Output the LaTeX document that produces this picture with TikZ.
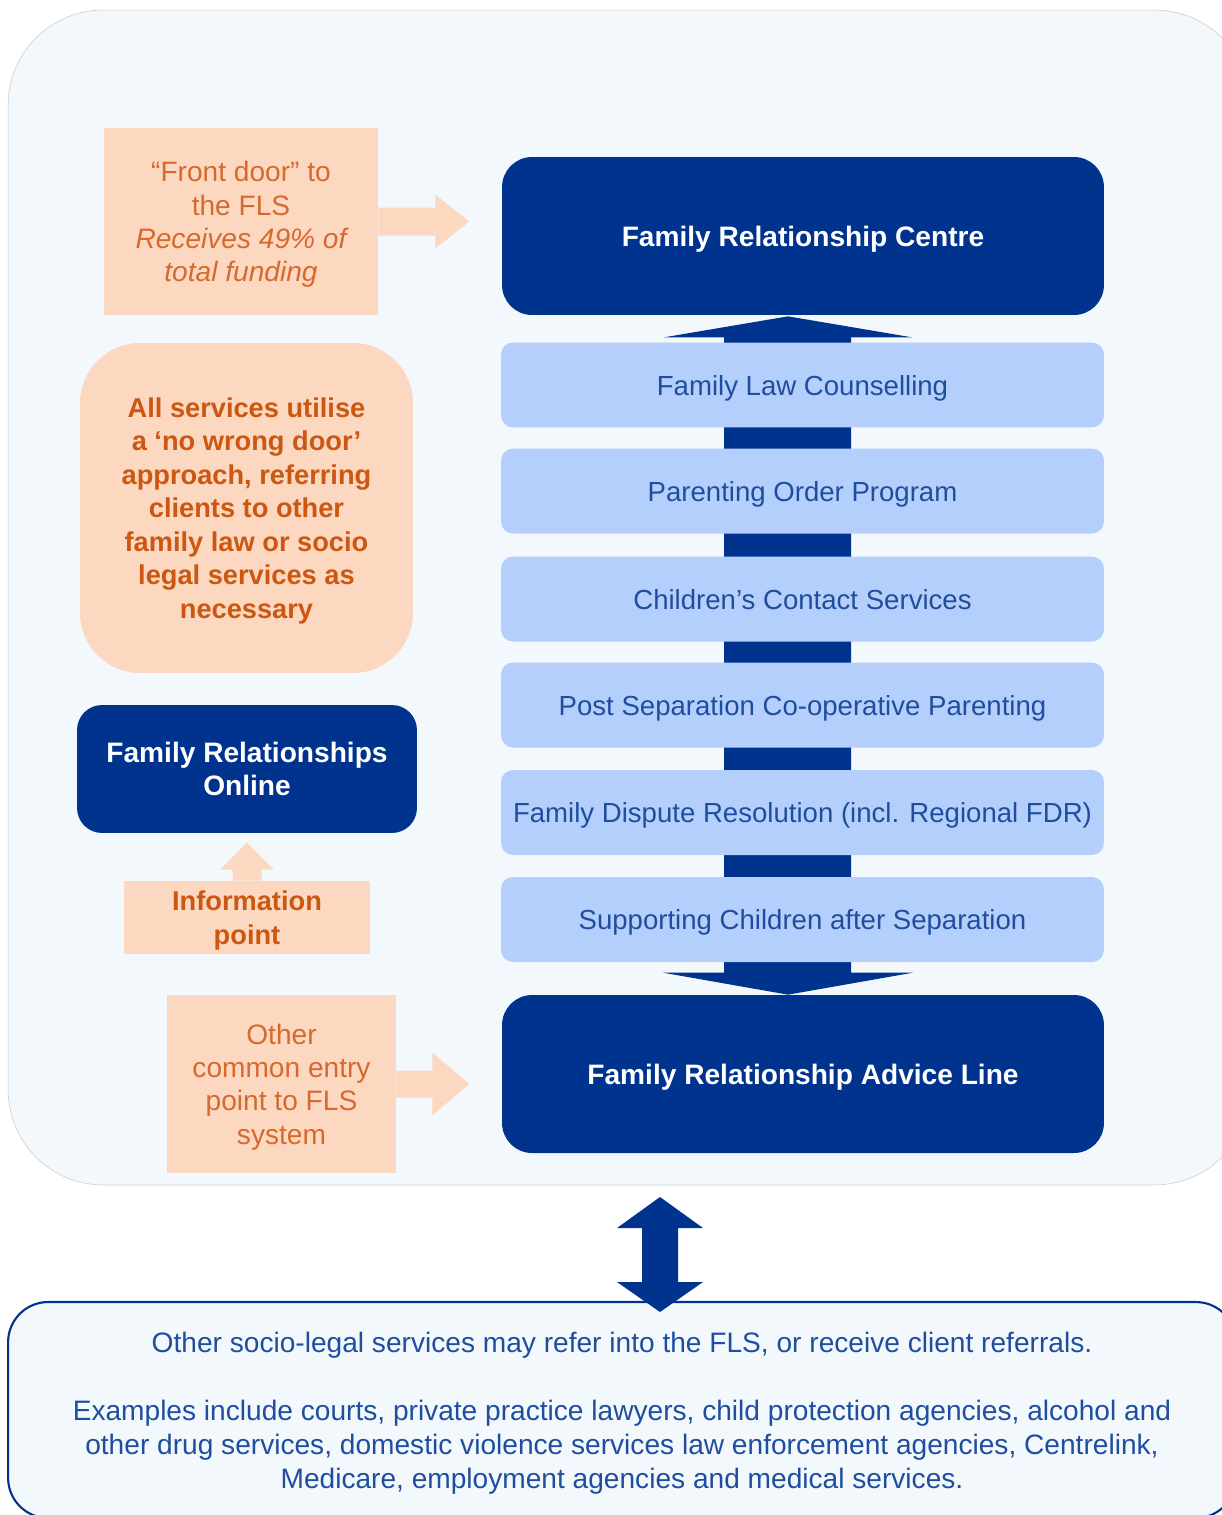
\documentclass[tikz,border=0pt]{standalone}
\usepackage{fontspec}
\setmainfont{Liberation Sans}
\usetikzlibrary{calc}
\definecolor{flsnavy}{HTML}{00338D}
\definecolor{flssky}{HTML}{B4CFFB}
\definecolor{flsink}{HTML}{1F4E9E}
\definecolor{flspeach}{HTML}{FDD8C1}
\definecolor{flsrust}{HTML}{D66A2E}
\definecolor{flsamber}{HTML}{CC5710}
\definecolor{flsmist}{HTML}{F3F8FD}
\tikzset{
  every node/.style={text depth=0pt},
  navybox/.style={fill=flsnavy, text=white, rounded corners=0.6cm, inner sep=0pt,
    align=center, font=\fontsize{16}{19}\selectfont\bfseries},
  skybox/.style={fill=flssky, text=flsink, rounded corners=0.24cm, inner sep=0pt,
    minimum width=12.06cm, minimum height=1.7cm, font=\fontsize{15.7}{19}\selectfont},
  peachbox/.style={fill=flspeach, text=flsrust, inner sep=0pt, align=center,
    font=\fontsize{16}{19}\selectfont},
  peachnote/.style={peachbox, text=flsamber, font=\fontsize{15.5}{19.1}\selectfont\bfseries},
}
\begin{document}
\begin{tikzpicture}[x=0.02cm, y=-0.02cm]
    \useasboundingbox (0,0) rectangle (1222,1515);
    \fill[white] (0,0) rectangle (1222,1515);
    % Frames
    \node[fill=flsmist, draw=gray!35, rounded corners=1.9cm, inner sep=0pt,
      minimum width=24.84cm, minimum height=23.5cm] (fls) at (629,597.5) {};
    \node[fill=flsmist, draw=flsnavy, line width=1.2pt, rounded corners=0.8cm, inner sep=0pt,
      minimum width=24.56cm, minimum height=4.32cm, text=flsink, align=center,
      font=\fontsize{16}{19.3}\selectfont] (other) at (622,1410)
      {Other socio-legal services may refer into the FLS, or receive client referrals.\\[19.3pt]
       Examples include courts, private practice lawyers, child protection agencies, alcohol and\\
       other drug services, domestic violence services law enforcement agencies, Centrelink,\\
       Medicare, employment agencies and medical services.};
    % Main column
    \node[navybox, minimum width=12.04cm, minimum height=3.16cm] (frc) at (803,236)
      {Family Relationship Centre};
    \node[navybox, minimum width=12.04cm, minimum height=3.16cm] (fral) at (803,1074)
      {Family Relationship Advice Line};
    \coordinate (up) at ($(frc.south)+(-15,1)$);
    \coordinate (dn) at ($(fral.north)+(-15,0)$);
    \fill[flsnavy] (up) -- ($(up)+(124,21)$) -- ($(up)+(63,21)$) -- ($(dn)+(63,-22)$)
      -- ($(dn)+(125,-22)$) -- (dn) -- ($(dn)+(-125,-22)$) -- ($(dn)+(-64,-22)$)
      -- ($(up)+(-64,21)$) -- ($(up)+(-124,21)$) -- cycle;
    \node[skybox] (flc) at (802.5,385) {Family Law Counselling};
    \node[skybox] (pop) at (802.5,491) {Parenting Order Program};
    \node[skybox] (ccs) at (802.5,599) {Children’s Contact Services};
    \node[skybox] (pscp) at (802.5,705) {Post Separation Co-operative Parenting};
    \node[skybox] (fdr) at (802.5,812.5) {Family Dispute Resolution (incl. Regional FDR)};
    \node[skybox] (scas) at (802.5,919.5) {Supporting Children after Separation};
    % Left column
    \node[peachbox, minimum width=5.48cm, minimum height=3.74cm] (fd) at (241,221.5)
      {“Front door” to\\the FLS\\\itshape Receives 49\% of\\\itshape total funding};
    \node[peachnote, rounded corners=1.2cm, minimum width=6.66cm, minimum height=6.6cm] (nwd) at (246.5,508)
      {All services utilise\\a ‘no wrong door’\\approach, referring\\clients to other\\family law or socio\\legal services as\\necessary};
    \node[navybox, rounded corners=0.5cm, minimum width=6.8cm, minimum height=2.56cm] (fro) at (247,769)
      {Family Relationships\\Online};
    \node[peachnote, minimum width=4.92cm, minimum height=1.46cm] (ip) at (247,917.5)
      {Information\\point};
    \node[peachbox, minimum width=4.58cm, minimum height=3.56cm] (oe) at (281.5,1084)
      {Other\\common entry\\point to FLS\\system};
    % Arrows
    \coordinate (fdtip) at ($(fd.east)+(91,0)$);
    \fill[flspeach] ($(fd.east)+(0,-14)$) -- ++(57,0) -- ++(0,-13) -- (fdtip)
      -- ($(fd.east)+(57,27)$) -- ++(0,-13) -- ($(fd.east)+(0,14)$) -- cycle;
    \coordinate (oetip) at ($(oe.east)+(73,0)$);
    \fill[flspeach] ($(oe.east)+(0,-13.5)$) -- ++(36,0) -- ++(0,-18) -- (oetip)
      -- ($(oe.east)+(36,31.5)$) -- ++(0,-18) -- ($(oe.east)+(0,13.5)$) -- cycle;
    \coordinate (iptip) at ($(ip.north)+(0,-38)$);
    \fill[flspeach] ($(ip.north)+(-14.5,0)$) -- ++(0,-11) -- ++(-12.5,0) -- (iptip)
      -- ($(ip.north)+(27,-11)$) -- ++(-12.5,0) -- ($(ip.north)+(14.5,0)$) -- cycle;
    \coordinate (st) at (660,1197);
    \coordinate (sb) at (660,1312);
    \fill[flsnavy] (st) -- ++(43,31) -- ++(-25,0) -- ($(sb)+(18,-30)$) -- ++(25,0)
      -- (sb) -- ++(-43,-30) -- ++(25,0) -- ($(st)+(-18,31)$) -- ++(-25,0) -- cycle;
\end{tikzpicture}
\end{document}
